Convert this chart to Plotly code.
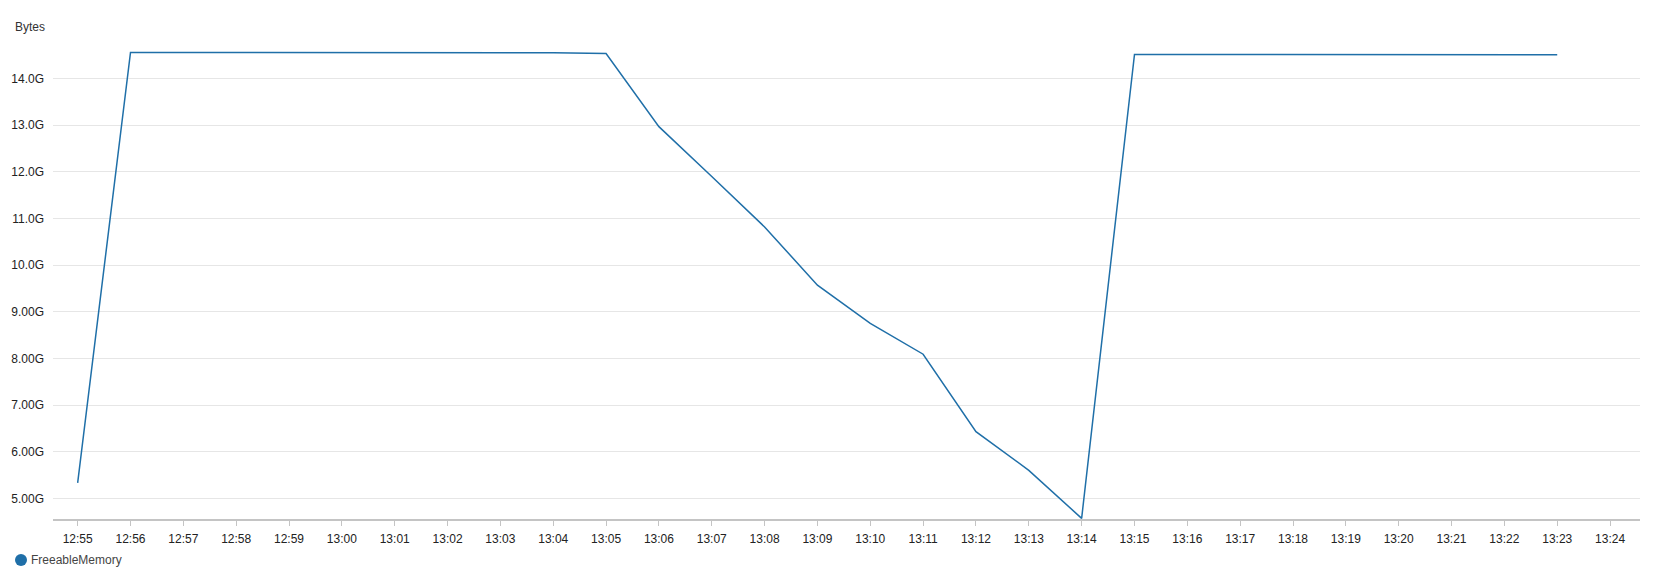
import plotly.graph_objects as go
import pandas as pd

times = ["12:55", "12:56", "12:57", "12:58", "12:59", "13:00", "13:01", "13:02", "13:03",
         "13:04", "13:05", "13:06", "13:07", "13:08", "13:09", "13:10", "13:11", "13:12",
         "13:13", "13:14", "13:15", "13:16", "13:17", "13:18", "13:19", "13:20", "13:21",
         "13:22", "13:23"]
freeable_gb = [5.33, 14.56, 14.56, 14.56, 14.56, 14.56, 14.56, 14.56, 14.56,
               14.555, 14.54, 12.97, 11.90, 10.82, 9.57, 8.75, 8.09, 6.43,
               5.60, 4.57, 14.52, 14.52, 14.52, 14.52, 14.52, 14.52, 14.52,
               14.52, 14.51]
series_name = "FreeableMemory"
y_unit = "Bytes"

x = pd.to_datetime(["2024-01-01 " + t for t in times])
y = [v * 1e9 for v in freeable_gb]

# page has an 8px body margin; figure is sized to fit inside it
OFF = 8
W, H = 1664 - OFF, 574 - OFF
L, R, T, B = 53 - OFF, 24, 39 - OFF, 55
pw, ph = W - L - R, H - T - B

def px_x(p):  # page pixel -> paper x
    return (p - OFF - L) / pw

def px_y(p):  # page pixel -> paper y
    return (H - B - (p - OFF)) / ph

color = "#1f6fa8"
fig = go.Figure()
fig.add_trace(go.Scatter(x=x, y=y, mode="lines", line=dict(color=color, width=1.5),
                         name=series_name, showlegend=False))

fig.update_layout(
    width=W, height=H,
    margin=dict(l=L, r=R, t=T, b=B),
    paper_bgcolor="white", plot_bgcolor="white",
    font=dict(family="Liberation Sans, Arial, sans-serif", size=12, color="#222"),
    showlegend=False,
    annotations=[
        dict(text=y_unit, xref="paper", yref="paper", x=px_x(13), y=px_y(26.7),
             xanchor="left", yanchor="middle", showarrow=False,
             font=dict(size=12, color="#333")),
        dict(text=series_name, xref="paper", yref="paper", x=px_x(29), y=px_y(560),
             xanchor="left", yanchor="middle", showarrow=False,
             font=dict(size=12, color="#444")),
    ],
    shapes=[
        dict(type="circle", xref="paper", yref="paper",
             x0=px_x(15), x1=px_x(27), y0=px_y(566), y1=px_y(554),
             fillcolor=color, line=dict(color=color, width=0)),
    ],
)
fig.update_xaxes(
    range=[pd.Timestamp("2024-01-01 12:54:32"), pd.Timestamp("2024-01-01 13:24:34")],
    tickformat="%H:%M", dtick=60000, showgrid=False,
    showline=True, linecolor="#c4c4c4", linewidth=2,
    ticks="outside", ticklen=5, tickcolor="#c4c4c4", ticklabelstandoff=3,
    tickfont=dict(size=12, color="#222"), zeroline=False, automargin=False,
)
fig.update_yaxes(
    range=[4.556e9, 14.85e9], tickformat=".3s", dtick=1e9, tick0=0,
    showgrid=True, gridcolor="#e6e6e6", gridwidth=1, zeroline=False,
    showline=False, ticks="", ticklabelstandoff=8, automargin=False,
    tickfont=dict(size=12, color="#222"),
)

fig.write_html("out.html")
